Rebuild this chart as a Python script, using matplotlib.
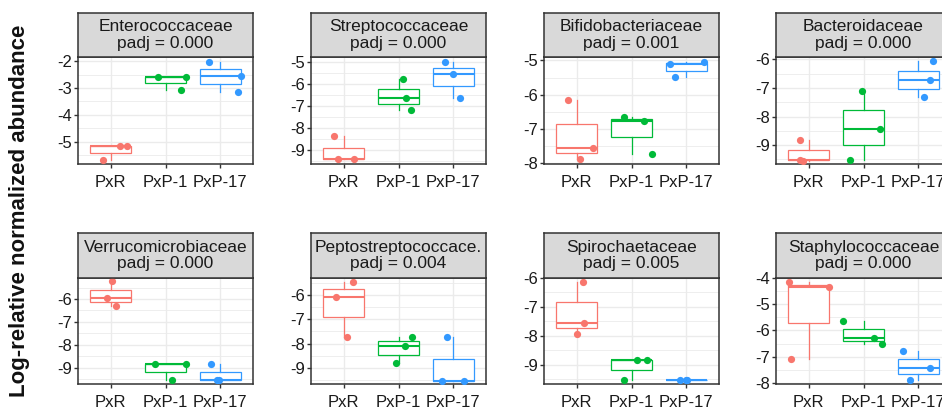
import matplotlib.pyplot as plt
from matplotlib.ticker import MultipleLocator

plt.rcParams["font.family"] = ["Liberation Sans", "DejaVu Sans"]
plt.rcParams["axes.unicode_minus"] = False

families = [
    "Enterococcaceae", "Streptococcaceae", "Bifidobacteriaceae", "Bacteroidaceae",
    "Verrucomicrobiaceae", "Peptostreptococcace.", "Spirochaetaceae", "Staphylococcaceae",
]
padj = ["0.000", "0.000", "0.001", "0.000", "0.000", "0.004", "0.005", "0.000"]
groups = ["PxR", "PxP-1", "PxP-17"]

# three samples per group, one row per family
pxr = [
    [-5.69, -5.15, -5.16],
    [-8.38, -9.44, -9.45],
    [-6.15, -7.54, -7.86],
    [-8.82, -9.53, -9.54],
    [-5.23, -5.96, -6.32],
    [-5.47, -6.09, -7.72],
    [-6.14, -7.54, -7.92],
    [-4.14, -4.36, -7.07],
]
pxp1 = [
    [-2.59, -2.58, -3.06],
    [-5.77, -6.65, -7.19],
    [-6.64, -6.76, -7.73],
    [-7.11, -8.44, -9.53],
    [-8.84, -8.84, -9.55],
    [-7.72, -8.11, -8.79],
    [-8.83, -8.83, -9.53],
    [-5.63, -6.27, -6.51],
]
pxp17 = [
    [-2.02, -2.54, -3.13],
    [-4.97, -5.52, -6.65],
    [-5.06, -5.11, -5.49],
    [-6.07, -6.74, -7.31],
    [-8.84, -9.54, -9.56],
    [-7.72, -9.52, -9.52],
    [-9.52, -9.53, -9.53],
    [-6.77, -7.43, -7.88],
]
# horizontal jitter of each point as seen in the picture
pxr_jit = [
    [-0.14, 0.16, 0.30], [-0.18, -0.11, 0.19], [-0.16, 0.30, 0.06], [-0.16, -0.16, -0.11],
    [0.02, -0.07, 0.10], [0.16, -0.15, 0.05], [0.12, 0.14, 0.00], [-0.37, 0.36, -0.33],
]
pxp1_jit = [
    [-0.13, 0.38, 0.28], [0.09, 0.13, 0.23], [-0.13, 0.23, 0.38], [-0.02, 0.31, -0.24],
    [-0.20, 0.37, 0.12], [0.25, 0.11, -0.05], [0.10, 0.29, -0.13], [-0.38, 0.20, 0.34],
]
pxp17_jit = [
    [-0.21, 0.38, 0.33], [-0.15, -0.01, 0.13], [0.32, -0.30, -0.20], [0.27, 0.21, 0.10],
    [-0.17, -0.06, -0.02], [-0.12, -0.20, 0.20], [-0.12, 0.02, 0.00], [-0.28, 0.22, -0.15],
]
ylims = [
    (-5.84, -1.84), (-9.66, -4.75), (-8.02, -4.90), (-9.66, -5.92),
    (-9.72, -5.08), (-9.66, -5.31), (-9.66, -6.00), (-8.04, -4.00),
]

colors = ["#F8766D", "#00BA38", "#3399FF"]
W, H = 942, 416
lefts = [78, 311, 544, 776]
pw = 175
rows = [(13, 57, 164), (233, 278, 384)]  # strip top, panel top, panel bottom
edge = "#333333"

fig = plt.figure(figsize=(W / 100, H / 100), dpi=100)

for i, fam in enumerate(families):
    r, c = divmod(i, 4)
    st, pt, pb = rows[r]
    x0 = lefts[c]
    ax = fig.add_axes([x0 / W, 1 - pb / H, pw / W, (pb - pt) / H])
    sax = fig.add_axes([x0 / W, 1 - pt / H, pw / W, (pt - st) / H])

    # strip
    sax.set_facecolor("#D9D9D9")
    sax.set_xticks([])
    sax.set_yticks([])
    for s in sax.spines.values():
        s.set_color(edge)
        s.set_linewidth(1.1)
    sax.text(0.5, 0.5, f"{fam}\npadj = {padj[i]}", ha="center", va="center",
             fontsize=12.5, linespacing=1.15, color="#1A1A1A", transform=sax.transAxes)

    vals = [pxr[i], pxp1[i], pxp17[i]]
    jits = [pxr_jit[i], pxp1_jit[i], pxp17_jit[i]]
    for g in range(3):
        col = colors[g]
        ax.boxplot([vals[g]], positions=[g + 1], widths=0.75, showfliers=False,
                   showcaps=False, patch_artist=True,
                   boxprops=dict(facecolor="white", edgecolor=col, linewidth=0.9),
                   whiskerprops=dict(color=col, linewidth=0.9),
                   medianprops=dict(color=col, linewidth=1.5),
                   zorder=2)
        xs = [g + 1 + j for j in jits[g]]
        ax.plot(xs, vals[g], "o", color=col, markersize=5.2, markeredgewidth=0, zorder=3)

    ax.set_xlim(0.4, 3.6)
    ax.set_ylim(*ylims[i])
    ax.set_xticks([1, 2, 3])
    ax.set_xticklabels(groups)
    ax.yaxis.set_major_locator(MultipleLocator(1))
    ax.yaxis.set_minor_locator(MultipleLocator(0.5))
    ax.grid(True, which="major", color="#EBEBEB", linewidth=1.0, zorder=0)
    ax.grid(True, which="minor", axis="y", color="#EBEBEB", linewidth=0.6, zorder=0)
    ax.set_axisbelow(True)
    for s in ax.spines.values():
        s.set_color(edge)
        s.set_linewidth(1.1)
    ax.tick_params(axis="both", which="major", length=3, width=1, color=edge,
                   labelsize=12, labelcolor="#1A1A1A")
    ax.tick_params(axis="y", which="minor", length=0)
    ax.tick_params(axis="y", pad=1)
    ax.tick_params(axis="x", pad=5)

fig.text(20 / W, 0.494, "Log-relative normalized abundance", rotation=90,
         ha="center", va="center", fontsize=16, fontweight="bold", color="#111111")

fig.savefig("out.png", dpi=100)
